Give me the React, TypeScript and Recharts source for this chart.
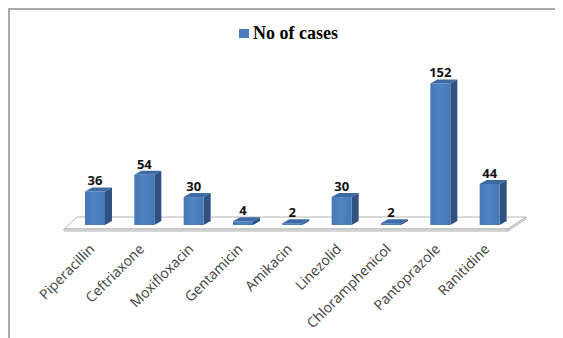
import { BarChart, Bar, XAxis, YAxis, Legend, LabelList, Customized } from "recharts";

const drugs = [
  "Piperacillin",
  "Ceftriaxone",
  "Moxifloxacin",
  "Gentamicin",
  "Amikacin",
  "Linezolid",
  "Chloramphenicol",
  "Pantoprazole",
  "Ranitidine",
];
const cases = [36, 54, 30, 4, 2, 30, 2, 152, 44];
const seriesName = "No of cases";

const data = drugs.map((name, i) => ({ name, cases: cases[i] }));

const W = 545;
const H = 330;
const XAXIS_H = 115;
const MARGIN = { top: 66, right: 41, left: 60, bottom: 0 };
const DEPTH_X = 7;
const DEPTH_Y = 4;

const FRONT = "#4a7ebb";
const SIDE = "#2f5282";
const TOP = "#3d6aa2";

// extruded bar: front face, dark right side, top cap
const Bar3D = (props: any) => {
  const { x, y, width, height } = props;
  if (width == null || height == null) return null;
  const r = x + width;
  const b = y + height;
  return (
    <g>
      <polygon
        points={`${r},${y} ${r + DEPTH_X},${y - DEPTH_Y} ${r + DEPTH_X},${b - DEPTH_Y} ${r},${b}`}
        fill={SIDE}
      />
      <polygon
        points={`${x},${y} ${x + DEPTH_X},${y - DEPTH_Y} ${r + DEPTH_X},${y - DEPTH_Y} ${r},${y}`}
        fill={TOP}
      />
      <rect x={x} y={y} width={width} height={height} fill="url(#frontGrad)" />
    </g>
  );
};

// white platform under the bars
const Floor = () => {
  const left = MARGIN.left;
  const right = W - MARGIN.right;
  const base = H - XAXIS_H;
  const fl = left - 6;
  const fr = right - 6;
  const br = right + 12;
  const bl = left + 7;
  const fy = base + 4;
  const by = base - 8;
  return (
    <g>
      <polygon
        points={`${fl},${fy} ${fr},${fy} ${br},${by} ${bl},${by}`}
        fill="#ffffff"
        stroke="#b4b4b4"
        strokeWidth={1}
      />
      <polygon
        points={`${fl},${fy} ${fr},${fy} ${fr},${fy + 2} ${fl},${fy + 2}`}
        fill="#e8e8e8"
        stroke="#b4b4b4"
        strokeWidth={1}
      />
      <polygon
        points={`${fr},${fy} ${br},${by} ${br},${by + 2} ${fr},${fy + 2}`}
        fill="#e8e8e8"
        stroke="#b4b4b4"
        strokeWidth={1}
      />
    </g>
  );
};

const DrugTick = ({ x, y, payload }: any) => {
  const tx = x + 1;
  const ty = y + 25;
  return (
    <text
      x={tx}
      y={ty}
      transform={`rotate(-45, ${tx}, ${ty})`}
      textAnchor="end"
      fontFamily="'Open Sans', sans-serif"
      fontSize={14}
      fill="#404040"
    >
      {payload.value}
    </text>
  );
};

const ValueLabel = ({ x, y, width, value }: any) => (
  <text
    x={x + width / 2}
    y={y - 6}
    textAnchor="middle"
    fontFamily="'Open Sans', sans-serif"
    fontWeight="bold"
    fontSize={13}
    fill="#111111"
  >
    {value}
  </text>
);

const LegendBox = () => (
  <div style={{ display: "flex", alignItems: "center", height: 18 }}>
    <span style={{ width: 10, height: 9, background: FRONT, marginRight: 4, display: "inline-block" }} />
    <span
      style={{
        fontFamily: "'Liberation Serif', 'Times New Roman', serif",
        fontWeight: "bold",
        fontSize: 18,
        lineHeight: "18px",
        color: "#000",
        whiteSpace: "nowrap",
      }}
    >
      {seriesName}
    </span>
  </div>
);

export default function App() {
  return (
    <>
      {/* frame runs past the bottom edge of the page */}
      <style>{"body { overflow: hidden; }"}</style>
      <div
        style={{
          width: W,
          height: H,
          borderLeft: "2px solid #a9a9a9",
          borderTop: "2px solid #a9a9a9",
          background: "#fff",
        }}
      >
        <BarChart width={W} height={H} data={data} margin={MARGIN} barSize={20}>
          <defs>
            <linearGradient id="frontGrad" x1="0" y1="0" x2="1" y2="0">
              <stop offset="0%" stopColor="#4677b3" />
              <stop offset="45%" stopColor="#4f84c2" />
              <stop offset="100%" stopColor="#4578b5" />
            </linearGradient>
          </defs>
          <Customized component={<Floor />} />
          <XAxis
            dataKey="name"
            interval={0}
            axisLine={false}
            tickLine={false}
            tickSize={0}
            tickMargin={0}
            height={XAXIS_H}
            tick={<DrugTick />}
          />
          <YAxis hide domain={[0, 160]} />
          <Legend
            layout="vertical"
            verticalAlign="middle"
            align="center"
            wrapperStyle={{ top: 14, left: 229, width: "auto" }}
            content={<LegendBox />}
          />
          <Bar dataKey="cases" name={seriesName} shape={<Bar3D />} isAnimationActive={false}>
            <LabelList dataKey="cases" content={<ValueLabel />} />
          </Bar>
        </BarChart>
      </div>
    </>
  );
}
